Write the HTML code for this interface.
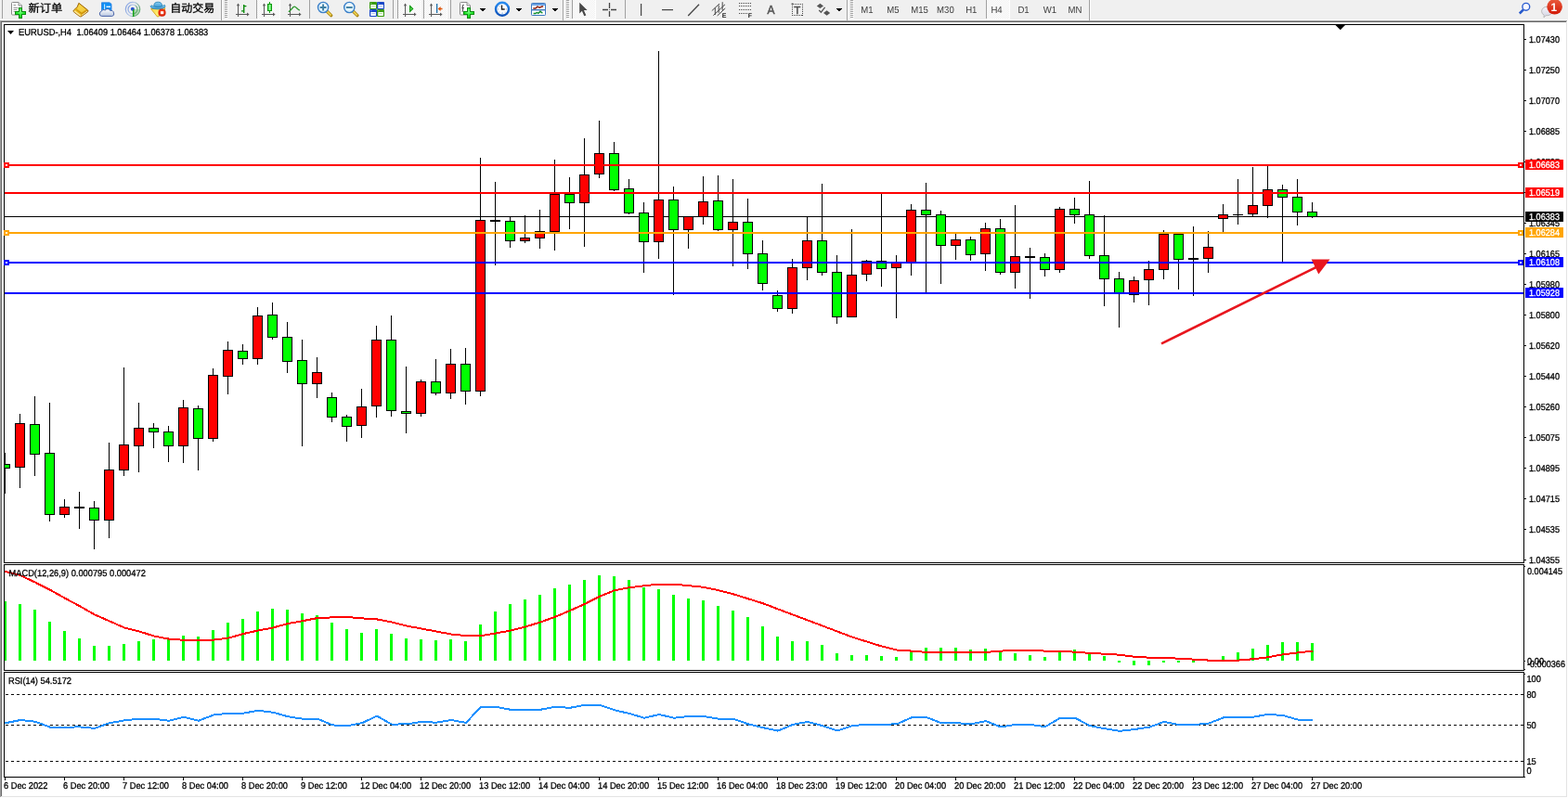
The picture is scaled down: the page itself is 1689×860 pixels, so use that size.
<!DOCTYPE html>
<html lang="zh-CN"><head><meta charset="utf-8"><title>EURUSD-,H4</title>
<style>
html,body{margin:0;padding:0;background:#f0f0f0;overflow:hidden}
body{width:1689px;height:860px;position:relative;font-family:"Liberation Sans", "Noto Sans CJK SC", sans-serif;}
#tb{position:absolute;left:0;top:0;width:1689px;height:22px;overflow:hidden}
#tb svg{position:absolute;left:0;top:0}
</style></head><body>
<svg width="1689" height="860" viewBox="0 0 1689 860" shape-rendering="crispEdges" text-rendering="geometricPrecision" font-family='"Liberation Sans", "Noto Sans CJK SC", sans-serif' font-size="9" style="position:absolute;left:0;top:0"><defs><clipPath id="cm"><rect x="5" y="27" width="1636" height="579"/></clipPath></defs><rect x="0" y="22" width="1689" height="1" fill="#a0a0a0"/>
<rect x="0" y="23" width="1689" height="1" fill="#696969"/>
<rect x="0" y="24" width="1689" height="836" fill="#ffffff"/>
<rect x="0" y="23" width="1" height="837" fill="#a0a0a0"/>
<rect x="1" y="23" width="1" height="836" fill="#696969"/>
<rect x="1687" y="23" width="1" height="836" fill="#e3e3e3"/>
<rect x="1" y="858" width="1687" height="1" fill="#e3e3e3"/>
<rect x="1688" y="22" width="1" height="838" fill="#ffffff"/>
<rect x="0" y="859" width="1689" height="1" fill="#ffffff"/>
<rect x="4" y="26" width="1638" height="1" fill="#000"/>
<rect x="4" y="606" width="1638" height="1" fill="#000"/>
<rect x="4" y="26" width="1" height="581" fill="#000"/>
<rect x="4" y="608" width="1638" height="1" fill="#000"/>
<rect x="4" y="722" width="1638" height="1" fill="#000"/>
<rect x="4" y="608" width="1" height="115" fill="#000"/>
<rect x="4" y="724" width="1638" height="1" fill="#000"/>
<rect x="4" y="837" width="1638" height="1" fill="#000"/>
<rect x="4" y="724" width="1" height="114" fill="#000"/>
<rect x="1641" y="26" width="1" height="581" fill="#000"/>
<rect x="1641" y="608" width="1" height="115" fill="#000"/>
<rect x="1641" y="724" width="1" height="114" fill="#000"/>
<rect x="1642" y="610" width="1" height="1" fill="#000"/>
<rect x="1642" y="712" width="1" height="1" fill="#000"/>
<rect x="1642" y="721" width="1" height="1" fill="#000"/>
<rect x="1642" y="726" width="1" height="1" fill="#000"/>
<rect x="1642" y="837" width="1" height="1" fill="#000"/>
<rect x="1642" y="42" width="2" height="1" fill="#000"/>
<text transform="translate(1647,46) scale(0.9129,1)" fill="#000" font-size="10" stroke="#000" stroke-width="0.3">1.07430</text>
<rect x="1642" y="75" width="2" height="1" fill="#000"/>
<text transform="translate(1647,79) scale(0.9129,1)" fill="#000" font-size="10" stroke="#000" stroke-width="0.3">1.07250</text>
<rect x="1642" y="108" width="2" height="1" fill="#000"/>
<text transform="translate(1647,112) scale(0.9129,1)" fill="#000" font-size="10" stroke="#000" stroke-width="0.3">1.07070</text>
<rect x="1642" y="141" width="2" height="1" fill="#000"/>
<text transform="translate(1647,145) scale(0.9129,1)" fill="#000" font-size="10" stroke="#000" stroke-width="0.3">1.06885</text>
<rect x="1642" y="174" width="2" height="1" fill="#000"/>
<text transform="translate(1647,178) scale(0.9129,1)" fill="#000" font-size="10" stroke="#000" stroke-width="0.3">1.06705</text>
<rect x="1642" y="207" width="2" height="1" fill="#000"/>
<rect x="1642" y="240" width="2" height="1" fill="#000"/>
<text transform="translate(1647,244) scale(0.9129,1)" fill="#000" font-size="10" stroke="#000" stroke-width="0.3">1.06345</text>
<rect x="1642" y="273" width="2" height="1" fill="#000"/>
<text transform="translate(1647,277) scale(0.9129,1)" fill="#000" font-size="10" stroke="#000" stroke-width="0.3">1.06165</text>
<rect x="1642" y="306" width="2" height="1" fill="#000"/>
<text transform="translate(1647,310) scale(0.9129,1)" fill="#000" font-size="10" stroke="#000" stroke-width="0.3">1.05980</text>
<rect x="1642" y="339" width="2" height="1" fill="#000"/>
<text transform="translate(1647,343) scale(0.9129,1)" fill="#000" font-size="10" stroke="#000" stroke-width="0.3">1.05800</text>
<rect x="1642" y="372" width="2" height="1" fill="#000"/>
<text transform="translate(1647,376) scale(0.9129,1)" fill="#000" font-size="10" stroke="#000" stroke-width="0.3">1.05620</text>
<rect x="1642" y="405" width="2" height="1" fill="#000"/>
<text transform="translate(1647,409) scale(0.9129,1)" fill="#000" font-size="10" stroke="#000" stroke-width="0.3">1.05440</text>
<rect x="1642" y="438" width="2" height="1" fill="#000"/>
<text transform="translate(1647,442) scale(0.9129,1)" fill="#000" font-size="10" stroke="#000" stroke-width="0.3">1.05260</text>
<rect x="1642" y="471" width="2" height="1" fill="#000"/>
<text transform="translate(1647,475) scale(0.9129,1)" fill="#000" font-size="10" stroke="#000" stroke-width="0.3">1.05075</text>
<rect x="1642" y="504" width="2" height="1" fill="#000"/>
<text transform="translate(1647,508) scale(0.9129,1)" fill="#000" font-size="10" stroke="#000" stroke-width="0.3">1.04895</text>
<rect x="1642" y="537" width="2" height="1" fill="#000"/>
<text transform="translate(1647,541) scale(0.9129,1)" fill="#000" font-size="10" stroke="#000" stroke-width="0.3">1.04715</text>
<rect x="1642" y="570" width="2" height="1" fill="#000"/>
<text transform="translate(1647,574) scale(0.9129,1)" fill="#000" font-size="10" stroke="#000" stroke-width="0.3">1.04535</text>
<rect x="1642" y="603" width="2" height="1" fill="#000"/>
<text transform="translate(1647,607) scale(0.9129,1)" fill="#000" font-size="10" stroke="#000" stroke-width="0.3">1.04355</text>
<g clip-path="url(#cm)">
<rect x="5" y="233" width="1636" height="1" fill="#000"/>
<rect x="5" y="488" width="1" height="44" fill="#000"/>
<rect x="0" y="500" width="11" height="5" fill="#000"/>
<rect x="1" y="501" width="9" height="3" fill="#00ff00"/>
<rect x="21" y="446" width="1" height="80" fill="#000"/>
<rect x="16" y="456" width="11" height="48" fill="#000"/>
<rect x="17" y="457" width="9" height="46" fill="#ff0000"/>
<rect x="37" y="427" width="1" height="86" fill="#000"/>
<rect x="32" y="457" width="11" height="33" fill="#000"/>
<rect x="33" y="458" width="9" height="31" fill="#00ff00"/>
<rect x="53" y="434" width="1" height="128" fill="#000"/>
<rect x="48" y="488" width="11" height="67" fill="#000"/>
<rect x="49" y="489" width="9" height="65" fill="#00ff00"/>
<rect x="69" y="538" width="1" height="20" fill="#000"/>
<rect x="64" y="546" width="11" height="9" fill="#000"/>
<rect x="65" y="547" width="9" height="7" fill="#ff0000"/>
<rect x="85" y="530" width="1" height="40" fill="#000"/>
<rect x="80" y="546" width="11" height="2" fill="#000"/>
<rect x="101" y="540" width="1" height="52" fill="#000"/>
<rect x="96" y="547" width="11" height="14" fill="#000"/>
<rect x="97" y="548" width="9" height="12" fill="#00ff00"/>
<rect x="117" y="477" width="1" height="103" fill="#000"/>
<rect x="112" y="506" width="11" height="55" fill="#000"/>
<rect x="113" y="507" width="9" height="53" fill="#ff0000"/>
<rect x="133" y="396" width="1" height="117" fill="#000"/>
<rect x="128" y="479" width="11" height="28" fill="#000"/>
<rect x="129" y="480" width="9" height="26" fill="#ff0000"/>
<rect x="149" y="434" width="1" height="75" fill="#000"/>
<rect x="144" y="461" width="11" height="20" fill="#000"/>
<rect x="145" y="462" width="9" height="18" fill="#ff0000"/>
<rect x="165" y="456" width="1" height="27" fill="#000"/>
<rect x="160" y="461" width="11" height="5" fill="#000"/>
<rect x="161" y="462" width="9" height="3" fill="#00ff00"/>
<rect x="181" y="459" width="1" height="39" fill="#000"/>
<rect x="176" y="465" width="11" height="16" fill="#000"/>
<rect x="177" y="466" width="9" height="14" fill="#00ff00"/>
<rect x="197" y="431" width="1" height="68" fill="#000"/>
<rect x="192" y="439" width="11" height="42" fill="#000"/>
<rect x="193" y="440" width="9" height="40" fill="#ff0000"/>
<rect x="213" y="437" width="1" height="70" fill="#000"/>
<rect x="208" y="440" width="11" height="33" fill="#000"/>
<rect x="209" y="441" width="9" height="31" fill="#00ff00"/>
<rect x="229" y="397" width="1" height="79" fill="#000"/>
<rect x="224" y="404" width="11" height="69" fill="#000"/>
<rect x="225" y="405" width="9" height="67" fill="#ff0000"/>
<rect x="245" y="368" width="1" height="57" fill="#000"/>
<rect x="240" y="377" width="11" height="29" fill="#000"/>
<rect x="241" y="378" width="9" height="27" fill="#ff0000"/>
<rect x="261" y="371" width="1" height="22" fill="#000"/>
<rect x="256" y="378" width="11" height="9" fill="#000"/>
<rect x="257" y="379" width="9" height="7" fill="#00ff00"/>
<rect x="277" y="331" width="1" height="62" fill="#000"/>
<rect x="272" y="340" width="11" height="47" fill="#000"/>
<rect x="273" y="341" width="9" height="45" fill="#ff0000"/>
<rect x="293" y="326" width="1" height="40" fill="#000"/>
<rect x="288" y="339" width="11" height="25" fill="#000"/>
<rect x="289" y="340" width="9" height="23" fill="#00ff00"/>
<rect x="309" y="347" width="1" height="55" fill="#000"/>
<rect x="304" y="363" width="11" height="27" fill="#000"/>
<rect x="305" y="364" width="9" height="25" fill="#00ff00"/>
<rect x="325" y="366" width="1" height="115" fill="#000"/>
<rect x="320" y="388" width="11" height="26" fill="#000"/>
<rect x="321" y="389" width="9" height="24" fill="#00ff00"/>
<rect x="341" y="385" width="1" height="44" fill="#000"/>
<rect x="336" y="401" width="11" height="13" fill="#000"/>
<rect x="337" y="402" width="9" height="11" fill="#ff0000"/>
<rect x="357" y="423" width="1" height="32" fill="#000"/>
<rect x="352" y="428" width="11" height="22" fill="#000"/>
<rect x="353" y="429" width="9" height="20" fill="#00ff00"/>
<rect x="373" y="447" width="1" height="29" fill="#000"/>
<rect x="368" y="449" width="11" height="11" fill="#000"/>
<rect x="369" y="450" width="9" height="9" fill="#00ff00"/>
<rect x="389" y="419" width="1" height="53" fill="#000"/>
<rect x="384" y="438" width="11" height="21" fill="#000"/>
<rect x="385" y="439" width="9" height="19" fill="#ff0000"/>
<rect x="405" y="351" width="1" height="99" fill="#000"/>
<rect x="400" y="366" width="11" height="72" fill="#000"/>
<rect x="401" y="367" width="9" height="70" fill="#ff0000"/>
<rect x="421" y="340" width="1" height="109" fill="#000"/>
<rect x="416" y="366" width="11" height="77" fill="#000"/>
<rect x="417" y="367" width="9" height="75" fill="#00ff00"/>
<rect x="437" y="395" width="1" height="72" fill="#000"/>
<rect x="432" y="443" width="11" height="3" fill="#000"/>
<rect x="433" y="444" width="9" height="1" fill="#00ff00"/>
<rect x="453" y="409" width="1" height="40" fill="#000"/>
<rect x="448" y="411" width="11" height="35" fill="#000"/>
<rect x="449" y="412" width="9" height="33" fill="#ff0000"/>
<rect x="469" y="387" width="1" height="39" fill="#000"/>
<rect x="464" y="411" width="11" height="13" fill="#000"/>
<rect x="465" y="412" width="9" height="11" fill="#00ff00"/>
<rect x="485" y="376" width="1" height="54" fill="#000"/>
<rect x="480" y="392" width="11" height="32" fill="#000"/>
<rect x="481" y="393" width="9" height="30" fill="#ff0000"/>
<rect x="501" y="375" width="1" height="61" fill="#000"/>
<rect x="496" y="392" width="11" height="30" fill="#000"/>
<rect x="497" y="393" width="9" height="28" fill="#00ff00"/>
<rect x="517" y="170" width="1" height="257" fill="#000"/>
<rect x="512" y="237" width="11" height="185" fill="#000"/>
<rect x="513" y="238" width="9" height="183" fill="#ff0000"/>
<rect x="533" y="196" width="1" height="90" fill="#000"/>
<rect x="528" y="237" width="11" height="2" fill="#000"/>
<rect x="549" y="234" width="1" height="33" fill="#000"/>
<rect x="544" y="238" width="11" height="22" fill="#000"/>
<rect x="545" y="239" width="9" height="20" fill="#00ff00"/>
<rect x="565" y="232" width="1" height="30" fill="#000"/>
<rect x="560" y="256" width="11" height="4" fill="#000"/>
<rect x="561" y="257" width="9" height="2" fill="#ff0000"/>
<rect x="581" y="226" width="1" height="42" fill="#000"/>
<rect x="576" y="249" width="11" height="8" fill="#000"/>
<rect x="577" y="250" width="9" height="6" fill="#ff0000"/>
<rect x="597" y="172" width="1" height="98" fill="#000"/>
<rect x="592" y="209" width="11" height="41" fill="#000"/>
<rect x="593" y="210" width="9" height="39" fill="#ff0000"/>
<rect x="613" y="191" width="1" height="56" fill="#000"/>
<rect x="608" y="209" width="11" height="10" fill="#000"/>
<rect x="609" y="210" width="9" height="8" fill="#00ff00"/>
<rect x="629" y="149" width="1" height="117" fill="#000"/>
<rect x="624" y="188" width="11" height="31" fill="#000"/>
<rect x="625" y="189" width="9" height="29" fill="#ff0000"/>
<rect x="645" y="130" width="1" height="62" fill="#000"/>
<rect x="640" y="165" width="11" height="23" fill="#000"/>
<rect x="641" y="166" width="9" height="21" fill="#ff0000"/>
<rect x="661" y="153" width="1" height="53" fill="#000"/>
<rect x="656" y="165" width="11" height="40" fill="#000"/>
<rect x="657" y="166" width="9" height="38" fill="#00ff00"/>
<rect x="677" y="193" width="1" height="38" fill="#000"/>
<rect x="672" y="203" width="11" height="27" fill="#000"/>
<rect x="673" y="204" width="9" height="25" fill="#00ff00"/>
<rect x="693" y="218" width="1" height="76" fill="#000"/>
<rect x="688" y="229" width="11" height="32" fill="#000"/>
<rect x="689" y="230" width="9" height="30" fill="#00ff00"/>
<rect x="709" y="55" width="1" height="224" fill="#000"/>
<rect x="704" y="215" width="11" height="46" fill="#000"/>
<rect x="705" y="216" width="9" height="44" fill="#ff0000"/>
<rect x="725" y="201" width="1" height="117" fill="#000"/>
<rect x="720" y="215" width="11" height="33" fill="#000"/>
<rect x="721" y="216" width="9" height="31" fill="#00ff00"/>
<rect x="741" y="233" width="1" height="35" fill="#000"/>
<rect x="736" y="233" width="11" height="15" fill="#000"/>
<rect x="737" y="234" width="9" height="13" fill="#ff0000"/>
<rect x="757" y="190" width="1" height="52" fill="#000"/>
<rect x="752" y="217" width="11" height="17" fill="#000"/>
<rect x="753" y="218" width="9" height="15" fill="#ff0000"/>
<rect x="773" y="189" width="1" height="60" fill="#000"/>
<rect x="768" y="216" width="11" height="32" fill="#000"/>
<rect x="769" y="217" width="9" height="30" fill="#00ff00"/>
<rect x="789" y="193" width="1" height="94" fill="#000"/>
<rect x="784" y="239" width="11" height="9" fill="#000"/>
<rect x="785" y="240" width="9" height="7" fill="#ff0000"/>
<rect x="805" y="214" width="1" height="76" fill="#000"/>
<rect x="800" y="239" width="11" height="35" fill="#000"/>
<rect x="801" y="240" width="9" height="33" fill="#00ff00"/>
<rect x="821" y="259" width="1" height="54" fill="#000"/>
<rect x="816" y="273" width="11" height="33" fill="#000"/>
<rect x="817" y="274" width="9" height="31" fill="#00ff00"/>
<rect x="837" y="313" width="1" height="23" fill="#000"/>
<rect x="832" y="318" width="11" height="15" fill="#000"/>
<rect x="833" y="319" width="9" height="13" fill="#00ff00"/>
<rect x="853" y="279" width="1" height="59" fill="#000"/>
<rect x="848" y="288" width="11" height="45" fill="#000"/>
<rect x="849" y="289" width="9" height="43" fill="#ff0000"/>
<rect x="869" y="234" width="1" height="68" fill="#000"/>
<rect x="864" y="259" width="11" height="30" fill="#000"/>
<rect x="865" y="260" width="9" height="28" fill="#ff0000"/>
<rect x="885" y="198" width="1" height="99" fill="#000"/>
<rect x="880" y="259" width="11" height="35" fill="#000"/>
<rect x="881" y="260" width="9" height="33" fill="#00ff00"/>
<rect x="901" y="275" width="1" height="74" fill="#000"/>
<rect x="896" y="293" width="11" height="49" fill="#000"/>
<rect x="897" y="294" width="9" height="47" fill="#00ff00"/>
<rect x="917" y="247" width="1" height="95" fill="#000"/>
<rect x="912" y="296" width="11" height="46" fill="#000"/>
<rect x="913" y="297" width="9" height="44" fill="#ff0000"/>
<rect x="933" y="280" width="1" height="23" fill="#000"/>
<rect x="928" y="281" width="11" height="15" fill="#000"/>
<rect x="929" y="282" width="9" height="13" fill="#ff0000"/>
<rect x="949" y="209" width="1" height="100" fill="#000"/>
<rect x="944" y="281" width="11" height="9" fill="#000"/>
<rect x="945" y="282" width="9" height="7" fill="#00ff00"/>
<rect x="965" y="275" width="1" height="68" fill="#000"/>
<rect x="960" y="282" width="11" height="7" fill="#000"/>
<rect x="961" y="283" width="9" height="5" fill="#ff0000"/>
<rect x="981" y="220" width="1" height="77" fill="#000"/>
<rect x="976" y="226" width="11" height="58" fill="#000"/>
<rect x="977" y="227" width="9" height="56" fill="#ff0000"/>
<rect x="997" y="197" width="1" height="119" fill="#000"/>
<rect x="992" y="226" width="11" height="6" fill="#000"/>
<rect x="993" y="227" width="9" height="4" fill="#00ff00"/>
<rect x="1013" y="227" width="1" height="79" fill="#000"/>
<rect x="1008" y="231" width="11" height="34" fill="#000"/>
<rect x="1009" y="232" width="9" height="32" fill="#00ff00"/>
<rect x="1029" y="252" width="1" height="28" fill="#000"/>
<rect x="1024" y="258" width="11" height="7" fill="#000"/>
<rect x="1025" y="259" width="9" height="5" fill="#ff0000"/>
<rect x="1045" y="255" width="1" height="26" fill="#000"/>
<rect x="1040" y="258" width="11" height="17" fill="#000"/>
<rect x="1041" y="259" width="9" height="15" fill="#00ff00"/>
<rect x="1061" y="240" width="1" height="52" fill="#000"/>
<rect x="1056" y="246" width="11" height="28" fill="#000"/>
<rect x="1057" y="247" width="9" height="26" fill="#ff0000"/>
<rect x="1077" y="236" width="1" height="60" fill="#000"/>
<rect x="1072" y="246" width="11" height="48" fill="#000"/>
<rect x="1073" y="247" width="9" height="46" fill="#00ff00"/>
<rect x="1093" y="221" width="1" height="90" fill="#000"/>
<rect x="1088" y="276" width="11" height="18" fill="#000"/>
<rect x="1089" y="277" width="9" height="16" fill="#ff0000"/>
<rect x="1109" y="267" width="1" height="55" fill="#000"/>
<rect x="1104" y="276" width="11" height="2" fill="#000"/>
<rect x="1125" y="273" width="1" height="25" fill="#000"/>
<rect x="1120" y="277" width="11" height="14" fill="#000"/>
<rect x="1121" y="278" width="9" height="12" fill="#00ff00"/>
<rect x="1141" y="223" width="1" height="71" fill="#000"/>
<rect x="1136" y="225" width="11" height="66" fill="#000"/>
<rect x="1137" y="226" width="9" height="64" fill="#ff0000"/>
<rect x="1157" y="213" width="1" height="28" fill="#000"/>
<rect x="1152" y="225" width="11" height="7" fill="#000"/>
<rect x="1153" y="226" width="9" height="5" fill="#00ff00"/>
<rect x="1173" y="195" width="1" height="84" fill="#000"/>
<rect x="1168" y="231" width="11" height="45" fill="#000"/>
<rect x="1169" y="232" width="9" height="43" fill="#00ff00"/>
<rect x="1189" y="232" width="1" height="98" fill="#000"/>
<rect x="1184" y="275" width="11" height="26" fill="#000"/>
<rect x="1185" y="276" width="9" height="24" fill="#00ff00"/>
<rect x="1205" y="293" width="1" height="60" fill="#000"/>
<rect x="1200" y="300" width="11" height="16" fill="#000"/>
<rect x="1201" y="301" width="9" height="14" fill="#00ff00"/>
<rect x="1221" y="298" width="1" height="28" fill="#000"/>
<rect x="1216" y="302" width="11" height="16" fill="#000"/>
<rect x="1217" y="303" width="9" height="14" fill="#ff0000"/>
<rect x="1237" y="281" width="1" height="48" fill="#000"/>
<rect x="1232" y="290" width="11" height="12" fill="#000"/>
<rect x="1233" y="291" width="9" height="10" fill="#ff0000"/>
<rect x="1253" y="248" width="1" height="53" fill="#000"/>
<rect x="1248" y="252" width="11" height="39" fill="#000"/>
<rect x="1249" y="253" width="9" height="37" fill="#ff0000"/>
<rect x="1269" y="252" width="1" height="60" fill="#000"/>
<rect x="1264" y="252" width="11" height="28" fill="#000"/>
<rect x="1265" y="253" width="9" height="26" fill="#00ff00"/>
<rect x="1285" y="244" width="1" height="75" fill="#000"/>
<rect x="1280" y="278" width="11" height="2" fill="#000"/>
<rect x="1301" y="249" width="1" height="45" fill="#000"/>
<rect x="1296" y="266" width="11" height="13" fill="#000"/>
<rect x="1297" y="267" width="9" height="11" fill="#ff0000"/>
<rect x="1317" y="220" width="1" height="31" fill="#000"/>
<rect x="1312" y="231" width="11" height="5" fill="#000"/>
<rect x="1313" y="232" width="9" height="3" fill="#ff0000"/>
<rect x="1333" y="193" width="1" height="49" fill="#000"/>
<rect x="1328" y="231" width="11" height="1" fill="#000"/>
<rect x="1349" y="180" width="1" height="53" fill="#000"/>
<rect x="1344" y="221" width="11" height="10" fill="#000"/>
<rect x="1345" y="222" width="9" height="8" fill="#ff0000"/>
<rect x="1365" y="178" width="1" height="57" fill="#000"/>
<rect x="1360" y="204" width="11" height="18" fill="#000"/>
<rect x="1361" y="205" width="9" height="16" fill="#ff0000"/>
<rect x="1381" y="199" width="1" height="84" fill="#000"/>
<rect x="1376" y="204" width="11" height="9" fill="#000"/>
<rect x="1377" y="205" width="9" height="7" fill="#00ff00"/>
<rect x="1397" y="193" width="1" height="50" fill="#000"/>
<rect x="1392" y="212" width="11" height="17" fill="#000"/>
<rect x="1393" y="213" width="9" height="15" fill="#00ff00"/>
<rect x="1413" y="218" width="1" height="17" fill="#000"/>
<rect x="1408" y="228" width="11" height="6" fill="#000"/>
<rect x="1409" y="229" width="9" height="4" fill="#00ff00"/>
</g>
<rect x="5" y="177" width="1636" height="2" fill="#ff0000"/>
<rect x="4" y="175" width="6" height="6" fill="#ff0000"/>
<rect x="6" y="177" width="2" height="2" fill="#fff"/>
<rect x="1635" y="175" width="6" height="6" fill="#ff0000"/>
<rect x="1637" y="177" width="2" height="2" fill="#fff"/>
<rect x="5" y="207" width="1636" height="2" fill="#ff0000"/>
<rect x="5" y="250" width="1636" height="2" fill="#ffa500"/>
<rect x="4" y="248" width="6" height="6" fill="#ffa500"/>
<rect x="6" y="250" width="2" height="2" fill="#fff"/>
<rect x="1635" y="248" width="6" height="6" fill="#ffa500"/>
<rect x="1637" y="250" width="2" height="2" fill="#fff"/>
<rect x="5" y="282" width="1636" height="2" fill="#0000ff"/>
<rect x="4" y="280" width="6" height="6" fill="#0000ff"/>
<rect x="6" y="282" width="2" height="2" fill="#fff"/>
<rect x="1635" y="280" width="6" height="6" fill="#0000ff"/>
<rect x="1637" y="282" width="2" height="2" fill="#fff"/>
<rect x="5" y="315" width="1636" height="2" fill="#0000ff"/>
<rect x="1643" y="228" width="41" height="11" fill="#000"/>
<text transform="translate(1647,237) scale(0.9129,1)" fill="#fff" font-size="10" stroke="#fff" stroke-width="0.3">1.06383</text>
<rect x="1643" y="172" width="41" height="11" fill="#ff0000"/>
<text transform="translate(1647,181) scale(0.9129,1)" fill="#fff" font-size="10" stroke="#fff" stroke-width="0.3">1.06683</text>
<rect x="1643" y="202" width="41" height="11" fill="#ff0000"/>
<text transform="translate(1647,211) scale(0.9129,1)" fill="#fff" font-size="10" stroke="#fff" stroke-width="0.3">1.06519</text>
<rect x="1643" y="245" width="41" height="11" fill="#ffa500"/>
<text transform="translate(1647,254) scale(0.9129,1)" fill="#fff" font-size="10" stroke="#fff" stroke-width="0.3">1.06284</text>
<rect x="1643" y="277" width="41" height="11" fill="#0000ff"/>
<text transform="translate(1647,286) scale(0.9129,1)" fill="#fff" font-size="10" stroke="#fff" stroke-width="0.3">1.06108</text>
<rect x="1643" y="310" width="41" height="11" fill="#0000ff"/>
<text transform="translate(1647,319) scale(0.9129,1)" fill="#fff" font-size="10" stroke="#fff" stroke-width="0.3">1.05928</text>
<g shape-rendering="geometricPrecision"><line x1="1251" y1="370.4" x2="1420" y2="286.8" stroke="#e8161e" stroke-width="2.6"/><polygon points="1412.6,279.6 1432.5,279.6 1420.3,295.6" fill="#e8161e"/></g>
<polygon points="8,33 15,33 11.5,37" fill="#000" shape-rendering="geometricPrecision"/>
<text transform="translate(20,38) scale(0.9326,1)" fill="#000" font-size="10" stroke="#000" stroke-width="0.3">EURUSD-,H4</text>
<text transform="translate(82.6,38) scale(0.926,1)" fill="#000" font-size="10" stroke="#000" stroke-width="0.3">1.06409 1.06464 1.06378 1.06383</text>
<polygon points="1438.5,27 1449,27 1443.8,32.2" fill="#000" shape-rendering="geometricPrecision"/>
<rect x="5" y="648" width="2" height="64" fill="#00ff00"/>
<rect x="20" y="651" width="3" height="61" fill="#00ff00"/>
<rect x="36" y="657" width="3" height="55" fill="#00ff00"/>
<rect x="52" y="670" width="3" height="42" fill="#00ff00"/>
<rect x="68" y="680" width="3" height="32" fill="#00ff00"/>
<rect x="84" y="688" width="3" height="24" fill="#00ff00"/>
<rect x="100" y="696" width="3" height="16" fill="#00ff00"/>
<rect x="116" y="696" width="3" height="16" fill="#00ff00"/>
<rect x="132" y="694" width="3" height="18" fill="#00ff00"/>
<rect x="148" y="691" width="3" height="21" fill="#00ff00"/>
<rect x="164" y="689" width="3" height="23" fill="#00ff00"/>
<rect x="180" y="689" width="3" height="23" fill="#00ff00"/>
<rect x="196" y="685" width="3" height="27" fill="#00ff00"/>
<rect x="212" y="686" width="3" height="26" fill="#00ff00"/>
<rect x="228" y="679" width="3" height="33" fill="#00ff00"/>
<rect x="244" y="671" width="3" height="41" fill="#00ff00"/>
<rect x="260" y="667" width="3" height="45" fill="#00ff00"/>
<rect x="276" y="659" width="3" height="53" fill="#00ff00"/>
<rect x="292" y="656" width="3" height="56" fill="#00ff00"/>
<rect x="308" y="657" width="3" height="55" fill="#00ff00"/>
<rect x="324" y="661" width="3" height="51" fill="#00ff00"/>
<rect x="340" y="663" width="3" height="49" fill="#00ff00"/>
<rect x="356" y="671" width="3" height="41" fill="#00ff00"/>
<rect x="372" y="678" width="3" height="34" fill="#00ff00"/>
<rect x="388" y="682" width="3" height="30" fill="#00ff00"/>
<rect x="404" y="678" width="3" height="34" fill="#00ff00"/>
<rect x="420" y="683" width="3" height="29" fill="#00ff00"/>
<rect x="436" y="688" width="3" height="24" fill="#00ff00"/>
<rect x="452" y="689" width="3" height="23" fill="#00ff00"/>
<rect x="468" y="690" width="3" height="22" fill="#00ff00"/>
<rect x="484" y="689" width="3" height="23" fill="#00ff00"/>
<rect x="500" y="691" width="3" height="21" fill="#00ff00"/>
<rect x="516" y="673" width="3" height="39" fill="#00ff00"/>
<rect x="532" y="659" width="3" height="53" fill="#00ff00"/>
<rect x="548" y="651" width="3" height="61" fill="#00ff00"/>
<rect x="564" y="646" width="3" height="66" fill="#00ff00"/>
<rect x="580" y="641" width="3" height="71" fill="#00ff00"/>
<rect x="596" y="634" width="3" height="78" fill="#00ff00"/>
<rect x="612" y="630" width="3" height="82" fill="#00ff00"/>
<rect x="628" y="625" width="3" height="87" fill="#00ff00"/>
<rect x="644" y="620" width="3" height="92" fill="#00ff00"/>
<rect x="660" y="621" width="3" height="91" fill="#00ff00"/>
<rect x="676" y="625" width="3" height="87" fill="#00ff00"/>
<rect x="692" y="633" width="3" height="79" fill="#00ff00"/>
<rect x="708" y="635" width="3" height="77" fill="#00ff00"/>
<rect x="724" y="641" width="3" height="71" fill="#00ff00"/>
<rect x="740" y="645" width="3" height="67" fill="#00ff00"/>
<rect x="756" y="647" width="3" height="65" fill="#00ff00"/>
<rect x="772" y="653" width="3" height="59" fill="#00ff00"/>
<rect x="788" y="658" width="3" height="54" fill="#00ff00"/>
<rect x="804" y="665" width="3" height="47" fill="#00ff00"/>
<rect x="820" y="675" width="3" height="37" fill="#00ff00"/>
<rect x="836" y="686" width="3" height="26" fill="#00ff00"/>
<rect x="852" y="691" width="3" height="21" fill="#00ff00"/>
<rect x="868" y="691" width="3" height="21" fill="#00ff00"/>
<rect x="884" y="695" width="3" height="17" fill="#00ff00"/>
<rect x="900" y="704" width="3" height="8" fill="#00ff00"/>
<rect x="916" y="706" width="3" height="6" fill="#00ff00"/>
<rect x="932" y="706" width="3" height="6" fill="#00ff00"/>
<rect x="948" y="707" width="3" height="5" fill="#00ff00"/>
<rect x="964" y="708" width="3" height="4" fill="#00ff00"/>
<rect x="980" y="702" width="3" height="10" fill="#00ff00"/>
<rect x="996" y="698" width="3" height="14" fill="#00ff00"/>
<rect x="1012" y="698" width="3" height="14" fill="#00ff00"/>
<rect x="1028" y="698" width="3" height="14" fill="#00ff00"/>
<rect x="1044" y="700" width="3" height="12" fill="#00ff00"/>
<rect x="1060" y="699" width="3" height="13" fill="#00ff00"/>
<rect x="1076" y="702" width="3" height="10" fill="#00ff00"/>
<rect x="1092" y="704" width="3" height="8" fill="#00ff00"/>
<rect x="1108" y="706" width="3" height="6" fill="#00ff00"/>
<rect x="1124" y="708" width="3" height="4" fill="#00ff00"/>
<rect x="1140" y="702" width="3" height="10" fill="#00ff00"/>
<rect x="1156" y="700" width="3" height="12" fill="#00ff00"/>
<rect x="1172" y="703" width="3" height="9" fill="#00ff00"/>
<rect x="1188" y="707" width="3" height="5" fill="#00ff00"/>
<rect x="1204" y="712" width="3" height="2" fill="#00ff00"/>
<rect x="1220" y="712" width="3" height="5" fill="#00ff00"/>
<rect x="1236" y="712" width="3" height="5" fill="#00ff00"/>
<rect x="1252" y="712" width="3" height="2" fill="#00ff00"/>
<rect x="1268" y="712" width="3" height="2" fill="#00ff00"/>
<rect x="1284" y="712" width="3" height="2" fill="#00ff00"/>
<rect x="1316" y="707" width="3" height="5" fill="#00ff00"/>
<rect x="1332" y="703" width="3" height="9" fill="#00ff00"/>
<rect x="1348" y="699" width="3" height="13" fill="#00ff00"/>
<rect x="1364" y="695" width="3" height="17" fill="#00ff00"/>
<rect x="1380" y="692" width="3" height="20" fill="#00ff00"/>
<rect x="1396" y="692" width="3" height="20" fill="#00ff00"/>
<rect x="1412" y="693" width="3" height="19" fill="#00ff00"/>
<polyline points="5,616.1 6,616.1 22,620.1 38,627.6 54,635.8 70,644.7 86,653.3 102,662.4 118,669.4 134,676.5 150,680.5 166,685.5 182,688.6 198,689.8 214,689.8 230,689.6 246,687.6 262,683.1 278,679.5 294,676.5 310,672.1 326,669.2 342,666 358,665.4 374,665 390,666.4 406,667.4 422,670.5 438,674.5 454,677.5 470,680.5 486,683.5 502,685.1 518,685.1 534,682.5 550,679.5 566,675.5 582,670.5 598,664.8 614,658 630,650.9 646,642.7 662,636.2 678,633.2 694,631.2 710,629.6 726,629.6 742,631.2 758,632.8 774,636.2 790,640.3 806,645.3 822,650.3 838,656.4 854,662.4 870,668.4 886,674.5 902,680.5 918,686.6 934,691.6 950,696.6 966,700.6 982,701.6 998,702.9 1014,702.9 1030,702.9 1046,702.9 1062,702.9 1078,701.6 1094,700.8 1110,700.8 1126,701.6 1142,701.8 1158,702.7 1174,703.9 1190,704.7 1206,705.7 1222,707.7 1238,708.7 1254,708.9 1270,709.7 1286,710.6 1302,711.6 1318,711.6 1334,711.6 1350,710.2 1366,708.2 1382,705.3 1398,703.4 1414,701.7" fill="none" stroke="#ff0000" stroke-width="2" stroke-linejoin="round"/>
<text transform="translate(9.5,621) scale(0.9297,1)" fill="#000" font-size="10" stroke="#000" stroke-width="0.3">MACD(12,26,9) 0.000795 0.000472</text>
<text transform="translate(1645,619) scale(0.9111,1)" fill="#000" font-size="10" stroke="#000" stroke-width="0.3">0.004145</text>
<text transform="translate(1645,716) scale(0.927,1)" fill="#000" font-size="10" stroke="#000" stroke-width="0.3">0.00</text>
<text transform="translate(1645,719) scale(0.9103,1)" fill="#000" font-size="10" stroke="#000" stroke-width="0.3">-0.000366</text>
<line x1="6" y1="748.5" x2="1641" y2="748.5" stroke="#000" stroke-width="1" stroke-dasharray="3 3"/>
<line x1="6" y1="781.5" x2="1641" y2="781.5" stroke="#000" stroke-width="1" stroke-dasharray="3 3"/>
<line x1="6" y1="820.5" x2="1641" y2="820.5" stroke="#000" stroke-width="1" stroke-dasharray="3 3"/>
<polyline points="5,779.2 6,779.2 22,776 38,777.7 54,783.7 70,783.7 86,783.4 102,784.9 118,779.2 134,776.4 150,774.7 166,774.7 182,776.7 198,772.7 214,776.7 230,770.5 246,768.7 262,768.7 278,765.8 294,767.7 310,772.2 326,774.7 342,774.7 358,781.4 374,782.2 390,779.2 406,771.7 422,780.6 438,780.4 454,777.9 470,778.7 486,776 502,778.9 518,761.8 534,761.8 550,764.8 566,764.8 582,764.8 598,761.8 614,762.8 630,759.8 646,759.8 662,765.3 678,769 694,773.7 710,770 726,773.7 742,772 758,772 774,774.7 790,774.7 806,780.4 822,784.2 838,787.6 854,780.9 870,777.9 886,782.2 902,787.6 918,782.2 934,780.7 950,780.7 966,780.4 982,773.2 998,773 1014,779.2 1030,779.2 1046,780.2 1062,777.2 1078,783.4 1094,780.9 1110,780.9 1126,783.2 1142,773.7 1158,773.7 1174,782.2 1190,785.2 1206,787.9 1222,786 1238,783.7 1254,777.9 1270,781.1 1286,781.1 1302,779.6 1318,773.3 1334,773 1350,772.7 1366,769.8 1382,771 1398,775.6 1414,775.9" fill="none" stroke="#1e90ff" stroke-width="2" stroke-linejoin="round"/>
<text transform="translate(9,737) scale(0.9267,1)" fill="#000" font-size="10" stroke="#000" stroke-width="0.3">RSI(14) 54.5172</text>
<text transform="translate(1644.4,735) scale(0.927,1)" fill="#000" font-size="10" stroke="#000" stroke-width="0.3">100</text>
<text transform="translate(1644.4,752) scale(0.927,1)" fill="#000" font-size="10" stroke="#000" stroke-width="0.3">80</text>
<text transform="translate(1644.4,785) scale(0.927,1)" fill="#000" font-size="10" stroke="#000" stroke-width="0.3">50</text>
<text transform="translate(1644.4,824) scale(0.927,1)" fill="#000" font-size="10" stroke="#000" stroke-width="0.3">15</text>
<text transform="translate(1644.4,834) scale(0.927,1)" fill="#000" font-size="10" stroke="#000" stroke-width="0.3">0</text>
<rect x="5" y="838" width="1" height="3" fill="#000"/>
<text transform="translate(4,850) scale(0.927,1)" fill="#000" font-size="10" stroke="#000" stroke-width="0.3">6 Dec 2022</text>
<rect x="69" y="838" width="1" height="3" fill="#000"/>
<text transform="translate(68,850) scale(0.927,1)" fill="#000" font-size="10" stroke="#000" stroke-width="0.3">6 Dec 20:00</text>
<rect x="133" y="838" width="1" height="3" fill="#000"/>
<text transform="translate(132,850) scale(0.927,1)" fill="#000" font-size="10" stroke="#000" stroke-width="0.3">7 Dec 12:00</text>
<rect x="197" y="838" width="1" height="3" fill="#000"/>
<text transform="translate(196,850) scale(0.927,1)" fill="#000" font-size="10" stroke="#000" stroke-width="0.3">8 Dec 04:00</text>
<rect x="261" y="838" width="1" height="3" fill="#000"/>
<text transform="translate(260,850) scale(0.927,1)" fill="#000" font-size="10" stroke="#000" stroke-width="0.3">8 Dec 20:00</text>
<rect x="325" y="838" width="1" height="3" fill="#000"/>
<text transform="translate(324,850) scale(0.927,1)" fill="#000" font-size="10" stroke="#000" stroke-width="0.3">9 Dec 12:00</text>
<rect x="389" y="838" width="1" height="3" fill="#000"/>
<text transform="translate(388,850) scale(0.927,1)" fill="#000" font-size="10" stroke="#000" stroke-width="0.3">12 Dec 04:00</text>
<rect x="453" y="838" width="1" height="3" fill="#000"/>
<text transform="translate(452,850) scale(0.927,1)" fill="#000" font-size="10" stroke="#000" stroke-width="0.3">12 Dec 20:00</text>
<rect x="517" y="838" width="1" height="3" fill="#000"/>
<text transform="translate(516,850) scale(0.927,1)" fill="#000" font-size="10" stroke="#000" stroke-width="0.3">13 Dec 12:00</text>
<rect x="581" y="838" width="1" height="3" fill="#000"/>
<text transform="translate(580,850) scale(0.927,1)" fill="#000" font-size="10" stroke="#000" stroke-width="0.3">14 Dec 04:00</text>
<rect x="645" y="838" width="1" height="3" fill="#000"/>
<text transform="translate(644,850) scale(0.927,1)" fill="#000" font-size="10" stroke="#000" stroke-width="0.3">14 Dec 20:00</text>
<rect x="709" y="838" width="1" height="3" fill="#000"/>
<text transform="translate(708,850) scale(0.927,1)" fill="#000" font-size="10" stroke="#000" stroke-width="0.3">15 Dec 12:00</text>
<rect x="773" y="838" width="1" height="3" fill="#000"/>
<text transform="translate(772,850) scale(0.927,1)" fill="#000" font-size="10" stroke="#000" stroke-width="0.3">16 Dec 04:00</text>
<rect x="837" y="838" width="1" height="3" fill="#000"/>
<text transform="translate(836,850) scale(0.927,1)" fill="#000" font-size="10" stroke="#000" stroke-width="0.3">18 Dec 23:00</text>
<rect x="901" y="838" width="1" height="3" fill="#000"/>
<text transform="translate(900,850) scale(0.927,1)" fill="#000" font-size="10" stroke="#000" stroke-width="0.3">19 Dec 12:00</text>
<rect x="965" y="838" width="1" height="3" fill="#000"/>
<text transform="translate(964,850) scale(0.927,1)" fill="#000" font-size="10" stroke="#000" stroke-width="0.3">20 Dec 04:00</text>
<rect x="1029" y="838" width="1" height="3" fill="#000"/>
<text transform="translate(1028,850) scale(0.927,1)" fill="#000" font-size="10" stroke="#000" stroke-width="0.3">20 Dec 20:00</text>
<rect x="1093" y="838" width="1" height="3" fill="#000"/>
<text transform="translate(1092,850) scale(0.927,1)" fill="#000" font-size="10" stroke="#000" stroke-width="0.3">21 Dec 12:00</text>
<rect x="1157" y="838" width="1" height="3" fill="#000"/>
<text transform="translate(1156,850) scale(0.927,1)" fill="#000" font-size="10" stroke="#000" stroke-width="0.3">22 Dec 04:00</text>
<rect x="1221" y="838" width="1" height="3" fill="#000"/>
<text transform="translate(1220,850) scale(0.927,1)" fill="#000" font-size="10" stroke="#000" stroke-width="0.3">22 Dec 20:00</text>
<rect x="1285" y="838" width="1" height="3" fill="#000"/>
<text transform="translate(1284,850) scale(0.927,1)" fill="#000" font-size="10" stroke="#000" stroke-width="0.3">23 Dec 12:00</text>
<rect x="1349" y="838" width="1" height="3" fill="#000"/>
<text transform="translate(1348,850) scale(0.927,1)" fill="#000" font-size="10" stroke="#000" stroke-width="0.3">27 Dec 04:00</text>
<rect x="1413" y="838" width="1" height="3" fill="#000"/>
<text transform="translate(1412,850) scale(0.927,1)" fill="#000" font-size="10" stroke="#000" stroke-width="0.3">27 Dec 20:00</text></svg>
<div id="tb"><svg width="1689" height="22" viewBox="0 0 1689 22" text-rendering="geometricPrecision" font-family='"Liberation Sans", "Noto Sans CJK SC", sans-serif'><defs><pattern id="chk" width="2" height="2" patternUnits="userSpaceOnUse"><rect width="2" height="2" fill="#ffffff"/><rect width="1" height="1" fill="#f0f0f0"/><rect x="1" y="1" width="1" height="1" fill="#f0f0f0"/></pattern><linearGradient id="bdg" x1="0" y1="0" x2="0" y2="1"><stop offset="0" stop-color="#ea5c3e"/><stop offset="1" stop-color="#d21a08"/></linearGradient><radialGradient id="gpl" cx=".5" cy=".35" r=".7"><stop offset="0" stop-color="#7dff86"/><stop offset=".6" stop-color="#1ee628"/><stop offset="1" stop-color="#10c81a"/></radialGradient><linearGradient id="gbk" x1="0" y1="0" x2="1" y2="1"><stop offset="0" stop-color="#f6d23a"/><stop offset=".5" stop-color="#eab514"/><stop offset="1" stop-color="#d89a10"/></linearGradient><linearGradient id="gcl" x1="0" y1="0" x2="0" y2="1"><stop offset="0" stop-color="#ffffff"/><stop offset="1" stop-color="#b9c7e0"/></linearGradient><linearGradient id="gsg" x1="0" y1="0" x2="1" y2=".4"><stop offset="0" stop-color="#5f86dc"/><stop offset=".55" stop-color="#a9c0e6"/><stop offset="1" stop-color="#4f9c60"/></linearGradient><linearGradient id="gfn" x1="0" y1="0" x2="1" y2="1"><stop offset="0" stop-color="#f6d040"/><stop offset=".6" stop-color="#fff27a"/><stop offset="1" stop-color="#eab820"/></linearGradient><linearGradient id="ght" x1="0" y1="0" x2="0" y2="1"><stop offset="0" stop-color="#8cd0f4"/><stop offset="1" stop-color="#3a98d4"/></linearGradient><radialGradient id="grd" cx=".5" cy=".4" r=".7"><stop offset="0" stop-color="#ff4a20"/><stop offset="1" stop-color="#c81400"/></radialGradient><linearGradient id="gcd" x1="0" y1="0" x2="1" y2="0"><stop offset="0" stop-color="#2fd83a"/><stop offset=".5" stop-color="#9dfaa0"/><stop offset="1" stop-color="#2fd83a"/></linearGradient><radialGradient id="gzm" cx=".5" cy=".4" r=".7"><stop offset="0" stop-color="#ffffff"/><stop offset="1" stop-color="#c4e8fb"/></radialGradient><linearGradient id="gck" x1="0" y1="0" x2="0" y2="1"><stop offset="0" stop-color="#2a8cf0"/><stop offset="1" stop-color="#0c50b8"/></linearGradient><linearGradient id="gbb" x1="0" y1="0" x2="0" y2="1"><stop offset="0" stop-color="#f4f4f8"/><stop offset="1" stop-color="#d4d4e4"/></linearGradient></defs><rect x="0" y="21" width="1689" height="1" fill="#fafafa" shape-rendering="crispEdges"/><rect x="239" y="0" width="1" height="22" fill="#ffffff" shape-rendering="crispEdges"/><rect x="607" y="0" width="1" height="22" fill="#ffffff" shape-rendering="crispEdges"/><rect x="913" y="0" width="1" height="22" fill="#ffffff" shape-rendering="crispEdges"/><rect x="1174" y="0" width="1" height="22" fill="#ffffff" shape-rendering="crispEdges"/><rect x="2" y="0" width="1" height="20" fill="#a0a0a0" shape-rendering="crispEdges"/><path d="M13.5 2.5h6.5l3.5 3.5v9q0 1-1 1h-9q-1 0-1-1v-11.5q0-1 1-1z" fill="#fff" stroke="#8a8a8a" stroke-width="1"/><path d="M20 2.5v3.5h3.5" fill="#e8e8e8" stroke="#8a8a8a" stroke-width="1"/><path d="M14.5 5.5h2.5M14.5 8.5h5M14.5 10.5h4M14.5 12.5h2" stroke="#9a9a9a" stroke-width="1"/><path d="M20 8h4v4h4v4h-4v4h-4v-4h-4v-4h4z" fill="#0c8c12"/><path d="M21 9h2v4h4v2h-4v4h-2v-4h-4v-2h4z" fill="url(#gpl)"/><text transform="translate(30.5,12.7) scale(1.02,1)" font-size="12" fill="#000" font-weight="normal" stroke="#000" stroke-width="0.3">新订单</text><path d="M84.9 3.3L94.7 11Q95.2 11.9 94.6 12.7L87.6 17.7Q86.6 18.1 85.7 17.6L79.3 12.7Q78.7 11.8 79.4 11L83.2 7.6Z" fill="url(#gbk)" stroke="#9c650a" stroke-width="1"/><path d="M80 11.9L86.8 16.8" stroke="#fbe69a" stroke-width="1.5"/><path d="M82 10.2L88 14.6L94 10.8" stroke="#b87c10" stroke-width=".7" fill="none"/><path d="M88.2 16.4L94 12.2" stroke="#f1e2b4" stroke-width=".9"/><path d="M85.4 4.6L92.6 10.2L88 13.2L83.2 9.6Z" fill="#fbe36a" opacity=".55"/><path d="M109.5 2.8h8.5l2 1.5v8h-10.5z" fill="#0f8ff5" stroke="#2a7fe0" stroke-width=".8"/><path d="M112.6 4.5v7.5" stroke="#d8efff" stroke-width="1"/><path d="M114.5 7.3h4.5" stroke="#e8f6ff" stroke-width="1.4"/><path d="M109.6 17.4a2.6 2.6 0 0 1-.4-5.1a3 3 0 0 1 4.2-1.4a3.2 3.2 0 0 1 5.4.6a2.6 2.6 0 0 1 3.6 2.4a2.4 2.4 0 0 1-1.6 3.5z" fill="url(#gcl)" stroke="#4a64a8" stroke-width="1"/><g fill="none"><circle cx="143" cy="10" r="7.7" stroke="url(#gsg)" stroke-width="1.2" opacity=".8"/><circle cx="143" cy="10" r="5" stroke="url(#gsg)" stroke-width="1.2" opacity=".85"/><path d="M143.6 17.8A7.8 7.8 0 0 0 150.8 10L143.6 10z" fill="#5cb862" opacity=".4"/><circle cx="142.8" cy="9.8" r="2" fill="#2a55d0"/><path d="M143.7 10.2v7.8" stroke="#14a014" stroke-width="1.5"/></g><path d="M162.6 9.6L177.8 8.6L177.2 11L170.8 17.9H169.4Z" fill="url(#gfn)" stroke="#d4a21a" stroke-width=".9"/><path d="M162.2 6.6Q161.8 9.6 170 9.8Q178.2 9.6 178 6.2Q177.6 4.8 175.6 6.2Q173.6 7.6 170 7.6Q166.2 7.6 164.4 6.4Q162.6 5.2 162.2 6.6Z" fill="url(#ght)" stroke="#2a86b8" stroke-width=".9"/><path d="M165.8 6.6Q165.6 2.2 170.2 2.2Q174.6 2.2 174.6 6.4Q172.6 7.6 170 7.6Q167.4 7.6 165.8 6.6Z" fill="url(#ght)" stroke="#2a86b8" stroke-width=".9"/><circle cx="174.5" cy="13.7" r="4.1" fill="url(#grd)"/><rect x="173" y="12.2" width="3.2" height="3" fill="#fff"/><text x="183.2" y="12.7" font-size="12" fill="#000" font-weight="normal" stroke="#000" stroke-width="0.3">自动交易</text><rect x="238" y="0" width="1" height="22" fill="#a0a0a0" shape-rendering="crispEdges"/><rect x="243" y="1" width="3" height="1" fill="#ffffff" shape-rendering="crispEdges"/><rect x="242" y="0" width="3" height="1" fill="#a0a0a0" shape-rendering="crispEdges"/><rect x="243" y="3" width="3" height="1" fill="#ffffff" shape-rendering="crispEdges"/><rect x="242" y="2" width="3" height="1" fill="#a0a0a0" shape-rendering="crispEdges"/><rect x="243" y="5" width="3" height="1" fill="#ffffff" shape-rendering="crispEdges"/><rect x="242" y="4" width="3" height="1" fill="#a0a0a0" shape-rendering="crispEdges"/><rect x="243" y="7" width="3" height="1" fill="#ffffff" shape-rendering="crispEdges"/><rect x="242" y="6" width="3" height="1" fill="#a0a0a0" shape-rendering="crispEdges"/><rect x="243" y="9" width="3" height="1" fill="#ffffff" shape-rendering="crispEdges"/><rect x="242" y="8" width="3" height="1" fill="#a0a0a0" shape-rendering="crispEdges"/><rect x="243" y="11" width="3" height="1" fill="#ffffff" shape-rendering="crispEdges"/><rect x="242" y="10" width="3" height="1" fill="#a0a0a0" shape-rendering="crispEdges"/><rect x="243" y="13" width="3" height="1" fill="#ffffff" shape-rendering="crispEdges"/><rect x="242" y="12" width="3" height="1" fill="#a0a0a0" shape-rendering="crispEdges"/><rect x="243" y="15" width="3" height="1" fill="#ffffff" shape-rendering="crispEdges"/><rect x="242" y="14" width="3" height="1" fill="#a0a0a0" shape-rendering="crispEdges"/><rect x="243" y="17" width="3" height="1" fill="#ffffff" shape-rendering="crispEdges"/><rect x="242" y="16" width="3" height="1" fill="#a0a0a0" shape-rendering="crispEdges"/><rect x="243" y="19" width="3" height="1" fill="#ffffff" shape-rendering="crispEdges"/><rect x="242" y="18" width="3" height="1" fill="#a0a0a0" shape-rendering="crispEdges"/><rect x="256" y="4" width="1" height="14" fill="#5a5a5a" shape-rendering="crispEdges"/><rect x="254" y="15" width="13" height="1" fill="#5a5a5a" shape-rendering="crispEdges"/><path d="M254.8 6.3L256.5 3.6L258.2 6.3ZM266 13.6L268.6 15.5L266 17.4Z" fill="#5a5a5a"/><path d="M262 5h1.4v1h2v1.3h-2v6.7h-1.4v-1.4h-2v-1.3h2z" fill="#0b8a0b"/><rect x="276" y="0" width="1" height="20" fill="#a0a0a0" shape-rendering="crispEdges"/><rect x="277" y="0" width="24" height="20" fill="url(#chk)" shape-rendering="crispEdges"/><rect x="301" y="0" width="1" height="21" fill="#fff" shape-rendering="crispEdges"/><rect x="276" y="20" width="26" height="1" fill="#fff" shape-rendering="crispEdges"/><rect x="284" y="4" width="1" height="14" fill="#5a5a5a" shape-rendering="crispEdges"/><rect x="282" y="15" width="13" height="1" fill="#5a5a5a" shape-rendering="crispEdges"/><path d="M282.8 6.3L284.5 3.6L286.2 6.3ZM294 13.6L296.6 15.5L294 17.4Z" fill="#5a5a5a"/><rect x="290" y="2" width="1" height="12" fill="#0c9a0c" shape-rendering="crispEdges"/><rect x="288.5" y="4.5" width="4" height="7" fill="url(#gcd)" stroke="#0c9a0c" stroke-width="1"/><rect x="312" y="4" width="1" height="14" fill="#5a5a5a" shape-rendering="crispEdges"/><rect x="310" y="15" width="13" height="1" fill="#5a5a5a" shape-rendering="crispEdges"/><path d="M310.8 6.3L312.5 3.6L314.2 6.3ZM322 13.6L324.6 15.5L322 17.4Z" fill="#5a5a5a"/><path d="M310.8 12.8C314 10.5 315.5 7.2 317.2 7.2S320 10 322.8 11.2" stroke="#2b982b" stroke-width="1.3" fill="none"/><rect x="333" y="0" width="1" height="20" fill="#a0a0a0" shape-rendering="crispEdges"/><path d="M352.3 12.2l4.4 4.4" stroke="#a8820e" stroke-width="3.4" stroke-linecap="round"/><path d="M352.3 12.2l4.4 4.4" stroke="#ecd050" stroke-width="1.9"/><circle cx="348.1" cy="8" r="5.6" fill="url(#gzm)" stroke="#3b7fc8" stroke-width="1.4"/><path d="M344.70000000000005 8h6.8M348.1 4.6v6.8" stroke="#3f7fa3" stroke-width="1.9"/><path d="M380.5 12.2l4.4 4.4" stroke="#a8820e" stroke-width="3.4" stroke-linecap="round"/><path d="M380.5 12.2l4.4 4.4" stroke="#ecd050" stroke-width="1.9"/><circle cx="376.3" cy="8" r="5.6" fill="url(#gzm)" stroke="#3b7fc8" stroke-width="1.4"/><path d="M372.90000000000003 8h6.8" stroke="#3f7fa3" stroke-width="1.9"/><rect x="398" y="2" width="8" height="8" rx="1" fill="#3a9c10"/><rect x="399.3" y="5" width="5.6" height="4" fill="#fff"/><rect x="400.3" y="6.2" width="3.6" height="1" fill="#a4dc8c"/><rect x="399.3" y="3.2" width="1" height="1" fill="#a4dc8c"/><rect x="406" y="2" width="8" height="8" rx="1" fill="#1a48c8"/><rect x="407.3" y="5" width="5.6" height="4" fill="#fff"/><rect x="408.3" y="6.2" width="3.6" height="1" fill="#9ab4f0"/><rect x="407.3" y="3.2" width="1" height="1" fill="#9ab4f0"/><rect x="398" y="10" width="8" height="8" rx="1" fill="#1a48c8"/><rect x="399.3" y="13" width="5.6" height="4" fill="#fff"/><rect x="400.3" y="14.2" width="3.6" height="1" fill="#9ab4f0"/><rect x="399.3" y="11.2" width="1" height="1" fill="#9ab4f0"/><rect x="406" y="10" width="8" height="8" rx="1" fill="#3a9c10"/><rect x="407.3" y="13" width="5.6" height="4" fill="#fff"/><rect x="408.3" y="14.2" width="3.6" height="1" fill="#a4dc8c"/><rect x="407.3" y="11.2" width="1" height="1" fill="#a4dc8c"/><rect x="423" y="0" width="1" height="20" fill="#a0a0a0" shape-rendering="crispEdges"/><rect x="428" y="0" width="1" height="20" fill="#a0a0a0" shape-rendering="crispEdges"/><rect x="429" y="0" width="24" height="20" fill="url(#chk)" shape-rendering="crispEdges"/><rect x="453" y="0" width="1" height="21" fill="#fff" shape-rendering="crispEdges"/><rect x="428" y="20" width="26" height="1" fill="#fff" shape-rendering="crispEdges"/><rect x="436" y="4" width="1" height="14" fill="#5a5a5a" shape-rendering="crispEdges"/><rect x="434" y="15" width="13" height="1" fill="#5a5a5a" shape-rendering="crispEdges"/><path d="M434.8 6.3L436.5 3.6L438.2 6.3ZM446 13.6L448.6 15.5L446 17.4Z" fill="#5a5a5a"/><path d="M441.6 6.5l3.1 3-3.1 3z" fill="#6fe86f" stroke="#0c980c" stroke-width="1.1"/><rect x="456" y="0" width="1" height="20" fill="#a0a0a0" shape-rendering="crispEdges"/><rect x="457" y="0" width="24" height="20" fill="url(#chk)" shape-rendering="crispEdges"/><rect x="481" y="0" width="1" height="21" fill="#fff" shape-rendering="crispEdges"/><rect x="456" y="20" width="26" height="1" fill="#fff" shape-rendering="crispEdges"/><rect x="464" y="4" width="1" height="14" fill="#5a5a5a" shape-rendering="crispEdges"/><rect x="462" y="15" width="13" height="1" fill="#5a5a5a" shape-rendering="crispEdges"/><path d="M462.8 6.3L464.5 3.6L466.2 6.3ZM474 13.6L476.6 15.5L474 17.4Z" fill="#5a5a5a"/><rect x="470" y="4" width="1.3" height="10" fill="#1c6ea8"/><path d="M471.6 9.5l3-2.6v1.9h1.9v1.4h-1.9v1.9z" fill="#e0560c"/><rect x="485" y="0" width="1" height="20" fill="#a0a0a0" shape-rendering="crispEdges"/><path d="M496.5 2.5h6.5l3.5 3.5v9q0 1-1 1h-9q-1 0-1-1v-11.5q0-1 1-1z" fill="#fff" stroke="#8a8a8a" stroke-width="1"/><path d="M503 2.5v3.5h3.5" fill="#e8e8e8" stroke="#8a8a8a" stroke-width="1"/><path d="M499.6 5q-2 1-1.2 3.5t-.6 4.3" stroke="#555" stroke-width="1.1" fill="none"/><path d="M497.4 8.6h2.6" stroke="#555" stroke-width="1"/><path d="M503 8h4v4h4v4h-4v4h-4v-4h-4v-4h4z" fill="#0c8c12"/><path d="M504 9h2v4h4v2h-4v4h-2v-4h-4v-2h4z" fill="url(#gpl)"/><path d="M517 9h6v1h-1v1h-1v1h-2v-1h-1v-1h-1z" fill="#000" shape-rendering="crispEdges"/><circle cx="541" cy="9.8" r="7" fill="#fff" stroke="url(#gck)" stroke-width="2.4"/><path d="M540.5 5.5v4.5h3.2" stroke="#222" stroke-width="1.4" fill="none"/><g fill="#9a9a9a"><rect x="536.2" y="9.4" width="1" height="1"/><rect x="540.5" y="13.6" width="1.2" height="1" fill="#4a90e0"/><rect x="544.8" y="9.4" width="1" height="1"/><rect x="537.6" y="6.4" width=".9" height=".9"/><rect x="537.6" y="12.6" width=".9" height=".9"/><rect x="543.6" y="12.6" width=".9" height=".9"/></g><path d="M556 9h6v1h-1v1h-1v1h-2v-1h-1v-1h-1z" fill="#000" shape-rendering="crispEdges"/><rect x="572.5" y="3.5" width="15" height="13" rx=".8" fill="#fff" stroke="#3c78c0"/><rect x="573" y="4" width="14" height="2" fill="#6ea4e4"/><rect x="573" y="10" width="14" height="1.4" fill="#3c78c0"/><path d="M574.3 9h2.6l2-1.8 2.2 1 2.8-1.2h1.3" stroke="#8c1c0c" stroke-width="1.4" fill="none"/><path d="M574.6 14.5h2.2l1.6-1 1.4 .8 2.2-2 2.4 2" stroke="#0c8c2c" stroke-width="1.4" fill="none"/><path d="M595 9h6v1h-1v1h-1v1h-2v-1h-1v-1h-1z" fill="#000" shape-rendering="crispEdges"/><rect x="606" y="0" width="1" height="22" fill="#a0a0a0" shape-rendering="crispEdges"/><rect x="611" y="1" width="3" height="1" fill="#ffffff" shape-rendering="crispEdges"/><rect x="610" y="0" width="3" height="1" fill="#a0a0a0" shape-rendering="crispEdges"/><rect x="611" y="3" width="3" height="1" fill="#ffffff" shape-rendering="crispEdges"/><rect x="610" y="2" width="3" height="1" fill="#a0a0a0" shape-rendering="crispEdges"/><rect x="611" y="5" width="3" height="1" fill="#ffffff" shape-rendering="crispEdges"/><rect x="610" y="4" width="3" height="1" fill="#a0a0a0" shape-rendering="crispEdges"/><rect x="611" y="7" width="3" height="1" fill="#ffffff" shape-rendering="crispEdges"/><rect x="610" y="6" width="3" height="1" fill="#a0a0a0" shape-rendering="crispEdges"/><rect x="611" y="9" width="3" height="1" fill="#ffffff" shape-rendering="crispEdges"/><rect x="610" y="8" width="3" height="1" fill="#a0a0a0" shape-rendering="crispEdges"/><rect x="611" y="11" width="3" height="1" fill="#ffffff" shape-rendering="crispEdges"/><rect x="610" y="10" width="3" height="1" fill="#a0a0a0" shape-rendering="crispEdges"/><rect x="611" y="13" width="3" height="1" fill="#ffffff" shape-rendering="crispEdges"/><rect x="610" y="12" width="3" height="1" fill="#a0a0a0" shape-rendering="crispEdges"/><rect x="611" y="15" width="3" height="1" fill="#ffffff" shape-rendering="crispEdges"/><rect x="610" y="14" width="3" height="1" fill="#a0a0a0" shape-rendering="crispEdges"/><rect x="611" y="17" width="3" height="1" fill="#ffffff" shape-rendering="crispEdges"/><rect x="610" y="16" width="3" height="1" fill="#a0a0a0" shape-rendering="crispEdges"/><rect x="611" y="19" width="3" height="1" fill="#ffffff" shape-rendering="crispEdges"/><rect x="610" y="18" width="3" height="1" fill="#a0a0a0" shape-rendering="crispEdges"/><rect x="616" y="0" width="1" height="20" fill="#a0a0a0" shape-rendering="crispEdges"/><rect x="617" y="0" width="24" height="20" fill="url(#chk)" shape-rendering="crispEdges"/><rect x="641" y="0" width="1" height="21" fill="#fff" shape-rendering="crispEdges"/><rect x="616" y="20" width="26" height="1" fill="#fff" shape-rendering="crispEdges"/><path d="M624.2 2.8v11.6l2.7-2.6 2.4 5.5 2-.9-2.4-5.3h3.7z" fill="#484848"/><path d="M649 10.5h6M658 10.5h6M656.5 3v6M656.5 12v6" stroke="#444" stroke-width="1.3"/><rect x="656" y="10" width="1" height="1" fill="#777"/><rect x="673" y="0" width="1" height="20" fill="#a0a0a0" shape-rendering="crispEdges"/><rect x="690" y="4" width="1.2" height="13" fill="#444"/><rect x="713" y="10" width="12" height="1.2" fill="#444"/><path d="M741.2 17l11.8-12.2" stroke="#444" stroke-width="1.3"/><g stroke="#484848" stroke-width="1" fill="none"><path d="M766.8 11.6l8.2-7.6M768.4 16.6l12.6-11.8M772.6 17l8.6-8"/><path d="M770.3 8.4v7.6M774.2 5.6v8.2M778.2 2.2v9"/></g><text x="777.8" y="19" font-size="7" fill="#222" font-weight="bold">E</text><path d="M796 3.5h13" stroke="#444" stroke-width="1" stroke-dasharray="1 1" shape-rendering="crispEdges"/><path d="M796 6.5h13" stroke="#444" stroke-width="1" stroke-dasharray="1 1" shape-rendering="crispEdges"/><path d="M796 10.5h13" stroke="#444" stroke-width="1" stroke-dasharray="1 1" shape-rendering="crispEdges"/><path d="M796 14.5h9" stroke="#444" stroke-width="1" stroke-dasharray="1 1" shape-rendering="crispEdges"/><text x="805.8" y="19" font-size="7" fill="#222" font-weight="bold">F</text><text transform="translate(826.6,15.2) scale(0.92,1)" font-size="13" fill="#585858" font-weight="normal" stroke="#585858" stroke-width="0.6">A</text><rect x="853.5" y="4.5" width="11" height="12" fill="none" stroke="#444" stroke-dasharray="1 1" shape-rendering="crispEdges"/><rect x="852.6" y="3.6" width="2" height="1.4" fill="#444"/><text x="855.2" y="15" font-size="11.5" fill="#505050" font-weight="normal" stroke="#505050" stroke-width="0.5">T</text><path d="M883.4 3.8l3.6 2.7-3.6 2.5-3.6-2.5zM890.6 11.2l3.6 2.7-3.6 2.9-3.6-2.9z" fill="#555"/><path d="M882.2 11l2.2 2.2 4.2-5.4" stroke="#555" stroke-width="1.3" fill="none"/><path d="M901 9h6v1h-1v1h-1v1h-2v-1h-1v-1h-1z" fill="#000" shape-rendering="crispEdges"/><rect x="912" y="0" width="1" height="22" fill="#a0a0a0" shape-rendering="crispEdges"/><rect x="917" y="1" width="3" height="1" fill="#ffffff" shape-rendering="crispEdges"/><rect x="916" y="0" width="3" height="1" fill="#a0a0a0" shape-rendering="crispEdges"/><rect x="917" y="3" width="3" height="1" fill="#ffffff" shape-rendering="crispEdges"/><rect x="916" y="2" width="3" height="1" fill="#a0a0a0" shape-rendering="crispEdges"/><rect x="917" y="5" width="3" height="1" fill="#ffffff" shape-rendering="crispEdges"/><rect x="916" y="4" width="3" height="1" fill="#a0a0a0" shape-rendering="crispEdges"/><rect x="917" y="7" width="3" height="1" fill="#ffffff" shape-rendering="crispEdges"/><rect x="916" y="6" width="3" height="1" fill="#a0a0a0" shape-rendering="crispEdges"/><rect x="917" y="9" width="3" height="1" fill="#ffffff" shape-rendering="crispEdges"/><rect x="916" y="8" width="3" height="1" fill="#a0a0a0" shape-rendering="crispEdges"/><rect x="917" y="11" width="3" height="1" fill="#ffffff" shape-rendering="crispEdges"/><rect x="916" y="10" width="3" height="1" fill="#a0a0a0" shape-rendering="crispEdges"/><rect x="917" y="13" width="3" height="1" fill="#ffffff" shape-rendering="crispEdges"/><rect x="916" y="12" width="3" height="1" fill="#a0a0a0" shape-rendering="crispEdges"/><rect x="917" y="15" width="3" height="1" fill="#ffffff" shape-rendering="crispEdges"/><rect x="916" y="14" width="3" height="1" fill="#a0a0a0" shape-rendering="crispEdges"/><rect x="917" y="17" width="3" height="1" fill="#ffffff" shape-rendering="crispEdges"/><rect x="916" y="16" width="3" height="1" fill="#a0a0a0" shape-rendering="crispEdges"/><rect x="917" y="19" width="3" height="1" fill="#ffffff" shape-rendering="crispEdges"/><rect x="916" y="18" width="3" height="1" fill="#a0a0a0" shape-rendering="crispEdges"/><text transform="translate(927.2,14) scale(0.93,1)" font-size="10.3" fill="#3c3c3c" font-weight="normal">M1</text><text transform="translate(955.2,14) scale(0.93,1)" font-size="10.3" fill="#3c3c3c" font-weight="normal">M5</text><text transform="translate(981.2,14) scale(0.93,1)" font-size="10.3" fill="#3c3c3c" font-weight="normal">M15</text><text transform="translate(1009.1,14) scale(0.93,1)" font-size="10.3" fill="#3c3c3c" font-weight="normal">M30</text><text transform="translate(1040.1999999999998,14) scale(0.93,1)" font-size="10.3" fill="#3c3c3c" font-weight="normal">H1</text><rect x="1062" y="0" width="1" height="20" fill="#a0a0a0" shape-rendering="crispEdges"/><rect x="1063" y="0" width="24" height="20" fill="url(#chk)" shape-rendering="crispEdges"/><rect x="1087" y="0" width="1" height="21" fill="#fff" shape-rendering="crispEdges"/><rect x="1062" y="20" width="26" height="1" fill="#fff" shape-rendering="crispEdges"/><text transform="translate(1067.3999999999999,14) scale(0.93,1)" font-size="10.3" fill="#3c3c3c" font-weight="normal">H4</text><text transform="translate(1096.3999999999999,14) scale(0.93,1)" font-size="10.3" fill="#3c3c3c" font-weight="normal">D1</text><text transform="translate(1123.6999999999998,14) scale(0.93,1)" font-size="10.3" fill="#3c3c3c" font-weight="normal">W1</text><text transform="translate(1150.5,14) scale(0.93,1)" font-size="10.3" fill="#3c3c3c" font-weight="normal">MN</text><rect x="1173" y="0" width="1" height="22" fill="#a0a0a0" shape-rendering="crispEdges"/><path d="M1641 10.3l-4.2 4.2" stroke="#2458cc" stroke-width="2.5"/><circle cx="1643.8" cy="7.3" r="3.9" fill="#f8f8ff" stroke="#2a5cd0" stroke-width="1.4"/><path d="M1660.6 12.3a5.6 5 0 0 1 11.4 0a5.6 4.4 0 0 1-5.6 4.4h-1.4l-2 2.2 .2-2.7a5 4.4 0 0 1-2.6-3.9z" fill="url(#gbb)" stroke="#b4b4b4" stroke-width=".9"/><circle cx="1674.6" cy="7.3" r="8.3" fill="url(#bdg)"/><text transform="translate(1670.4,12) scale(0.95,1)" font-size="12.5" fill="#fff" font-weight="bold">1</text></svg></div>
</body></html>
